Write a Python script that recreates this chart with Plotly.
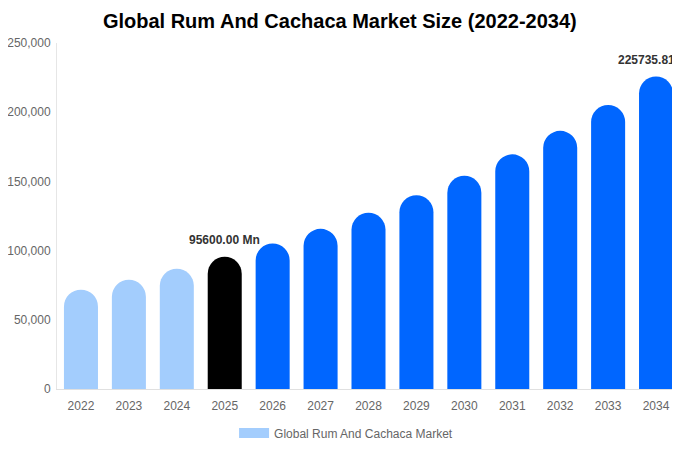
import plotly.graph_objects as go

years = ["2022", "2023", "2024", "2025", "2026", "2027", "2028",
         "2029", "2030", "2031", "2032", "2033", "2034"]
market_size = [71800, 79000, 86900, 95600.00, 105180, 115720, 127310,
               140060, 154100, 169530, 186520, 205200, 225735.81]
bar_colors = ["#a3cdfd", "#a3cdfd", "#a3cdfd", "#000000", "#0066ff", "#0066ff", "#0066ff",
              "#0066ff", "#0066ff", "#0066ff", "#0066ff", "#0066ff", "#0066ff"]
labelled_years = ["2025", "2034"]
series_name = "Global Rum And Cachaca Market"

fig = go.Figure()
fig.add_trace(go.Bar(
    x=years, y=market_size,
    marker=dict(color=bar_colors, cornerradius="50%", line=dict(width=0)),
    showlegend=False,
    hoverinfo="x+y",
))
# dummy trace so the legend gets a wide light-blue swatch
fig.add_trace(go.Scatter(
    x=[years[0]], y=[None], mode="lines", name=series_name,
    line=dict(color="#a3cdfd", width=12), hoverinfo="skip",
))

# annotations on a category axis of numeric-looking labels: use the index
for i, (yr, val) in enumerate(zip(years, market_size)):
    if yr in labelled_years:
        fig.add_annotation(x=i, y=val, text=f"<b>{val:.2f} Mn</b>",
                           showarrow=False, yshift=17,
                           font=dict(size=12, color="#333333"))

# the page body adds 8px offset, margins account for it
fig.update_layout(
    width=680, height=450,
    margin=dict(l=49, r=8, t=35, b=69, autoexpand=False),
    paper_bgcolor="white", plot_bgcolor="white",
    font=dict(family="Liberation Sans, Arial, sans-serif", color="#666666", size=12),
    title=dict(text="<b>Global Rum And Cachaca Market Size (2022-2034)</b>",
               x=0.488, xanchor="center", y=0.971, yanchor="middle",
               font=dict(size=20, color="#000000")),
    bargap=0.29,
    legend=dict(orientation="h", x=0.464, xanchor="center", y=-0.085, yanchor="top",
                font=dict(size=12, color="#666666")),
    xaxis=dict(type="category", range=[-0.5, len(years) - 0.5],
               showline=True, linecolor="#e0e0e0", linewidth=1, ticks="",
               showgrid=False, automargin=False, ticklabelstandoff=6,
               tickfont=dict(size=12, color="#666666")),
    yaxis=dict(range=[0, 250000], dtick=50000, tickformat=",", showgrid=False,
               showline=True, linecolor="#e6e6e6", linewidth=1, ticks="",
               zeroline=False, automargin=False, ticklabelstandoff=3,
               tickfont=dict(size=12, color="#666666")),
)

fig.write_html("out.html")
